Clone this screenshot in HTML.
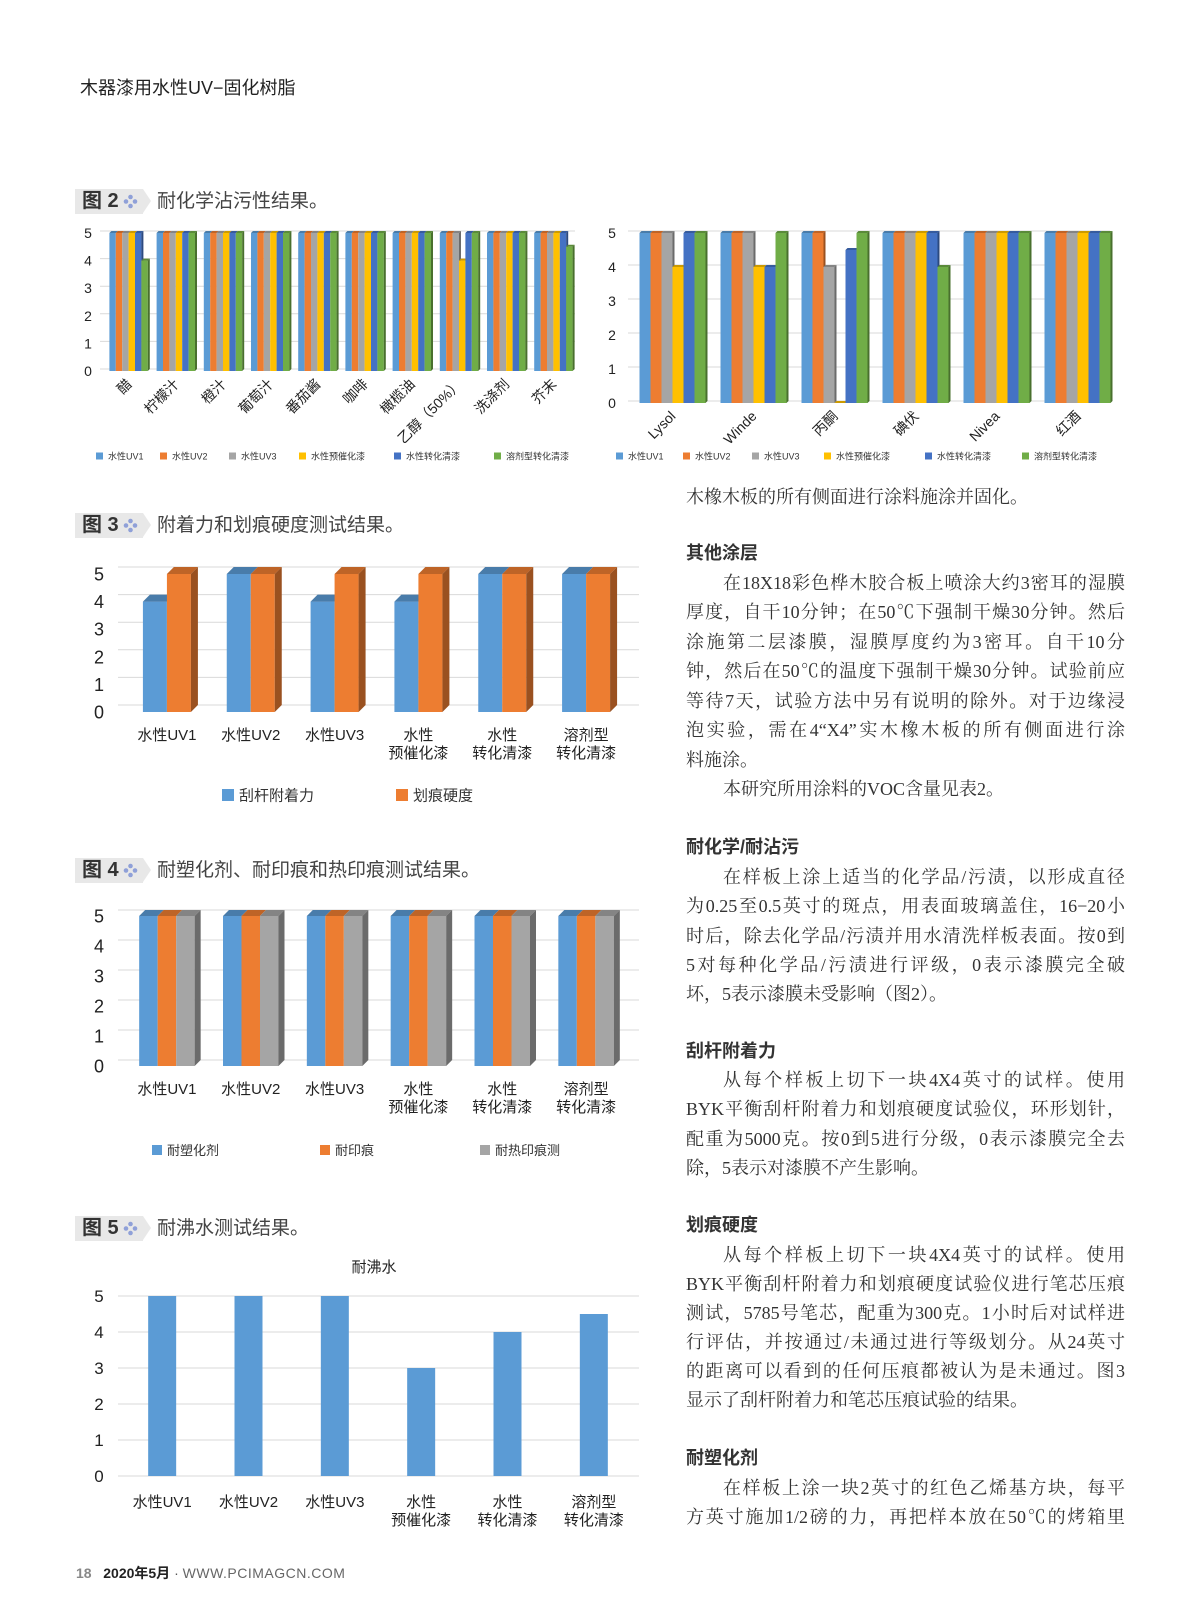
<!DOCTYPE html>
<html><head><meta charset="utf-8">
<style>
html,body{margin:0;padding:0;background:#fff;}
body{width:1200px;height:1613px;position:relative;overflow:hidden;font-family:"Liberation Sans","Noto Sans CJK SC",sans-serif;color:#333;}
.abs{position:absolute;}
.hdr{left:80px;top:74px;font-size:18px;color:#222;}
.cap{position:absolute;left:75px;height:25px;}
.cap .box{position:absolute;left:0;top:0;width:68px;height:25px;background:#e8e8e8;}
.cap .tip{position:absolute;left:68px;top:0;width:0;height:0;border-top:12.5px solid transparent;border-bottom:12.5px solid transparent;border-left:8px solid #e8e8e8;}
.cap .lab{position:absolute;left:7px;top:0;line-height:25px;font-size:20px;font-weight:bold;color:#333;white-space:nowrap;}
.cap .dia{position:absolute;left:48px;top:5px;width:15px;height:15px;}
.cap .txt{position:absolute;left:82px;top:0;line-height:25px;font-size:19px;color:#444;white-space:nowrap;}
.ln{position:absolute;left:686px;width:439px;height:22px;line-height:22px;font-family:"Liberation Serif","Noto Serif CJK SC",serif;font-size:18px;color:#333;white-space:nowrap;text-align:justify;text-align-last:justify;}
.ln.l{text-align-last:left;}
.ln.i{padding-left:37px;width:402px;}
.hd{position:absolute;left:686px;height:24px;line-height:24px;font-size:18px;font-weight:bold;color:#333;}
svg{position:absolute;left:0;top:0;}
</style></head><body>
<div class="abs hdr">木器漆用水性UV−固化树脂</div>

<div class="cap" style="top:189px"><div class="box"></div><div class="tip"></div><div class="lab">图 2</div><svg class="dia" viewBox="0 0 15 15"><circle cx="7.5" cy="3" r="2.3" fill="#8fa0d8"/><circle cx="3" cy="7.5" r="2.3" fill="#8fa0d8"/><circle cx="12" cy="7.5" r="2.3" fill="#8fa0d8"/><circle cx="7.5" cy="12" r="2.3" fill="#8fa0d8"/></svg><div class="txt">耐化学沾污性结果。</div></div>
<div class="cap" style="top:513px"><div class="box"></div><div class="tip"></div><div class="lab">图 3</div><svg class="dia" viewBox="0 0 15 15"><circle cx="7.5" cy="3" r="2.3" fill="#8fa0d8"/><circle cx="3" cy="7.5" r="2.3" fill="#8fa0d8"/><circle cx="12" cy="7.5" r="2.3" fill="#8fa0d8"/><circle cx="7.5" cy="12" r="2.3" fill="#8fa0d8"/></svg><div class="txt">附着力和划痕硬度测试结果。</div></div>
<div class="cap" style="top:858px"><div class="box"></div><div class="tip"></div><div class="lab">图 4</div><svg class="dia" viewBox="0 0 15 15"><circle cx="7.5" cy="3" r="2.3" fill="#8fa0d8"/><circle cx="3" cy="7.5" r="2.3" fill="#8fa0d8"/><circle cx="12" cy="7.5" r="2.3" fill="#8fa0d8"/><circle cx="7.5" cy="12" r="2.3" fill="#8fa0d8"/></svg><div class="txt">耐塑化剂、耐印痕和热印痕测试结果。</div></div>
<div class="cap" style="top:1216px"><div class="box"></div><div class="tip"></div><div class="lab">图 5</div><svg class="dia" viewBox="0 0 15 15"><circle cx="7.5" cy="3" r="2.3" fill="#8fa0d8"/><circle cx="3" cy="7.5" r="2.3" fill="#8fa0d8"/><circle cx="12" cy="7.5" r="2.3" fill="#8fa0d8"/><circle cx="7.5" cy="12" r="2.3" fill="#8fa0d8"/></svg><div class="txt">耐沸水测试结果。</div></div>

<svg id="charts" width="1200" height="1613"></svg>

<div>
<div class="ln l" style="top:486px">木橡木板的所有侧面进行涂料施涂并固化。</div>
<div class="hd" style="top:541px">其他涂层</div>
<div class="ln i" style="top:572px">在18X18彩色桦木胶合板上喷涂大约3密耳的湿膜</div>
<div class="ln" style="top:601px">厚度，自干10分钟；在50℃下强制干燥30分钟。然后</div>
<div class="ln" style="top:631px">涂施第二层漆膜，湿膜厚度约为3密耳。自干10分</div>
<div class="ln" style="top:660px">钟，然后在50℃的温度下强制干燥30分钟。试验前应</div>
<div class="ln" style="top:690px">等待7天，试验方法中另有说明的除外。对于边缘浸</div>
<div class="ln" style="top:719px">泡实验，需在4“X4”实木橡木板的所有侧面进行涂</div>
<div class="ln l" style="top:749px">料施涂。</div>
<div class="ln i l" style="top:778px">本研究所用涂料的VOC含量见表2。</div>
<div class="hd" style="top:835px">耐化学/耐沾污</div>
<div class="ln i" style="top:866px">在样板上涂上适当的化学品/污渍，以形成直径</div>
<div class="ln" style="top:895px">为0.25至0.5英寸的斑点，用表面玻璃盖住，16−20小</div>
<div class="ln" style="top:925px">时后，除去化学品/污渍并用水清洗样板表面。按0到</div>
<div class="ln" style="top:954px">5对每种化学品/污渍进行评级，0表示漆膜完全破</div>
<div class="ln l" style="top:983px">坏，5表示漆膜未受影响（图2）。</div>
<div class="hd" style="top:1039px">刮杆附着力</div>
<div class="ln i" style="top:1069px">从每个样板上切下一块4X4英寸的试样。使用</div>
<div class="ln" style="top:1098px">BYK平衡刮杆附着力和划痕硬度试验仪，环形划针，</div>
<div class="ln" style="top:1128px">配重为5000克。按0到5进行分级，0表示漆膜完全去</div>
<div class="ln l" style="top:1157px">除，5表示对漆膜不产生影响。</div>
<div class="hd" style="top:1213px">划痕硬度</div>
<div class="ln i" style="top:1244px">从每个样板上切下一块4X4英寸的试样。使用</div>
<div class="ln" style="top:1273px">BYK平衡刮杆附着力和划痕硬度试验仪进行笔芯压痕</div>
<div class="ln" style="top:1302px">测试，5785号笔芯，配重为300克。1小时后对试样进</div>
<div class="ln" style="top:1331px">行评估，并按通过/未通过进行等级划分。从24英寸</div>
<div class="ln" style="top:1360px">的距离可以看到的任何压痕都被认为是未通过。图3</div>
<div class="ln l" style="top:1389px">显示了刮杆附着力和笔芯压痕试验的结果。</div>
<div class="hd" style="top:1446px">耐塑化剂</div>
<div class="ln i" style="top:1477px">在样板上涂一块2英寸的红色乙烯基方块，每平</div>
<div class="ln" style="top:1506px">方英寸施加1/2磅的力，再把样本放在50℃的烤箱里</div>
</div>

<div class="abs" style="left:76px;top:1563px;font-size:14px;white-space:nowrap"><span style="color:#888;font-weight:bold">18</span>&nbsp;&nbsp;&nbsp;<span style="font-weight:bold;color:#222">2020年5月</span> <span style="color:#555">·</span> <span style="color:#666;letter-spacing:0.5px">WWW.PCIMAGCN.COM</span></div>

<script>
// ---- data ----
const fig2aCats = ['醋','柠檬汁','橙汁','葡萄汁','番茄酱','咖啡','橄榄油','乙醇（50%）','洗涤剂','芥末'];
const fig2aUV1 = [5,5,5,5,5,5,5,5,5,5];
const fig2aUV2 = [5,5,5,5,5,5,5,5,5,5];
const fig2aUV3 = [5,5,5,5,5,5,5,5,5,5];
const fig2aPre = [5,5,5,5,5,5,5,4,5,5];
const fig2aConv = [5,5,5,5,5,5,5,5,5,5];
const fig2aSolv = [4,5,5,5,5,5,5,5,5,4.5];
const fig2bCats = ['Lysol','Winde','丙酮','碘伏','Nivea','红酒'];
const fig2bUV1 = [5,5,5,5,5,5];
const fig2bUV2 = [5,5,5,5,5,5];
const fig2bUV3 = [5,5,4,5,5,5];
const fig2bPre = [4,4,0,5,5,5];
const fig2bConv = [5,4,4.5,5,5,5];
const fig2bSolv = [5,5,5,4,5,5];
const coatCats = [['水性UV1'],['水性UV2'],['水性UV3'],['水性','预催化漆'],['水性','转化清漆'],['溶剂型','转化清漆']];
const fig3Adh = [4,5,4,4,5,5];
const fig3Scr = [5,5,5,5,5,5];
const fig4Plas = [5,5,5,5,5,5];
const fig4Print = [5,5,5,5,5,5];
const fig4Hot = [5,5,5,5,5,5];
const fig5Boil = [5,5,5,3,4,4.5];
const yTicks = [0,1,2,3,4,5];
const legend2 = ['水性UV1','水性UV2','水性UV3','水性预催化漆','水性转化清漆','溶剂型转化清漆'];
const legend3 = ['刮杆附着力','划痕硬度'];
const legend4 = ['耐塑化剂','耐印痕','耐热印痕测'];

const C = {b:'#5b9bd5',o:'#ed7d31',g:'#a5a5a5',y:'#ffc000',d:'#4472c4',gr:'#70ad47'};
const NS='http://www.w3.org/2000/svg';
const svg=document.getElementById('charts');
function mk(tag,at,parent){const e=document.createElementNS(NS,tag);for(const k in at)e.setAttribute(k,at[k]);(parent||svg).appendChild(e);return e;}
function shade(hex,f){const n=parseInt(hex.slice(1),16);let r=n>>16,g=(n>>8)&255,b=n&255;r=Math.round(r*f);g=Math.round(g*f);b=Math.round(b*f);return 'rgb('+r+','+g+','+b+')';}

function chart(name,cfg,cats,series,colors){
  const grp=mk('g',{});
  
  
  const y=v=>cfg.y0-(v/5)*(cfg.y0-cfg.y5);
  const step=(cfg.x1-cfg.x0)/cats.length;
  const xc=i=>cfg.x0+step*(i+0.5);
  yTicks.forEach(t=>{
    const l=mk('line',{x1:cfg.gx0,x2:cfg.gx1,y1:y(t)-cfg.dep,y2:y(t)-cfg.dep,stroke:'#d9d9d9','stroke-width':1},grp);
    
    
    const tx=mk('text',{x:cfg.lx,y:y(t)+cfg.fs*0.36,'font-size':cfg.fs,'text-anchor':'middle',fill:'#222'},grp);
    tx.textContent=t;
    
    
  });
  const ns=series.length,bw=cfg.bw;
  series.forEach((s,si)=>{
    s.forEach((v,i)=>{
      const bx=xc(i)-ns*bw/2+si*bw, by=y(v), h=cfg.y0-by;
      const col=colors[si];
      const r=mk('rect',{x:bx,y:by,width:bw,height:Math.max(h,0),fill:col},grp);
      
      
      if(cfg.dep>0){
        const d=cfg.dep;
        const top=mk('polygon',{points:[bx,by,bx+d,by-d,bx+bw+d,by-d,bx+bw,by].join(','),fill:shade(col,0.8)},grp);
        
        
        if(si===ns-1||v>series[si+1][i]){
          const side=mk('polygon',{points:[bx+bw,by,bx+bw+d,by-d,bx+bw+d,cfg.y0-d,bx+bw,cfg.y0].join(','),fill:shade(col,0.65)},grp);
          
          
        }
      }
    });
  });
  cats.forEach((c,i)=>{
    if(cfg.rot){
      const tx=mk('text',{x:xc(i)+4,y:cfg.y0+14,'font-size':cfg.cfs,'text-anchor':'end',fill:'#222',transform:'rotate(-45 '+(xc(i)+4)+' '+(cfg.y0+14)+')'},grp);
      tx.textContent=c;
      
      
    } else {
      c.forEach((line,k)=>{
        const tx=mk('text',{x:xc(i),y:cfg.ly+k*18,'font-size':cfg.cfs,'text-anchor':'middle',fill:'#222'},grp);
        tx.textContent=line;
        
        
      });
    }
  });
  if(cfg.legend){
    cfg.legend.forEach((lab,k)=>{
      const lx=cfg.legX[k];
      const sq=mk('rect',{x:lx,y:cfg.legY-cfg.lsq/2,width:cfg.lsq,height:cfg.lsq,fill:colors[k]},grp);
      
      
      const tx=mk('text',{x:lx+cfg.lsq+5,y:cfg.legY+cfg.lfs*0.38,'font-size':cfg.lfs,fill:'#333'},grp);
      tx.textContent=lab;
      
      
    });
  }
}
const six=[C.b,C.o,C.g,C.y,C.d,C.gr];
chart('chemical-resistance-chart-a',{x0:105,x1:577,y0:371,y5:233,gx0:100,gx1:575,lx:88,fs:14,bw:6.4,dep:2,rot:true,cfs:14,
  legend:legend2,legX:[96,160,229,299,394,494],legY:456,lsq:7,lfs:9},fig2aCats,[fig2aUV1,fig2aUV2,fig2aUV3,fig2aPre,fig2aConv,fig2aSolv],six);
chart('chemical-resistance-chart-b',{x0:632,x1:1118,y0:403,y5:233,gx0:628,gx1:1110,lx:612,fs:14,bw:11,dep:2,rot:true,cfs:14,
  legend:legend2,legX:[616,683,752,824,925,1022],legY:456,lsq:7,lfs:9},fig2bCats,[fig2bUV1,fig2bUV2,fig2bUV3,fig2bPre,fig2bConv,fig2bSolv],six);
chart('adhesion-scratch-chart',{x0:125,x1:628,y0:712,y5:574,gx0:118,gx1:639,lx:99,fs:18,bw:24,dep:7,rot:false,cfs:15,ly:740,
  legend:legend3,legX:[222,396],legY:795,lsq:12,lfs:15},coatCats,[fig3Adh,fig3Scr],[C.b,C.o]);
chart('plasticizer-print-chart',{x0:125,x1:628,y0:1066,y5:916,gx0:118,gx1:639,lx:99,fs:18,bw:18.5,dep:6,rot:false,cfs:15,ly:1094,
  legend:legend4,legX:[152,320,480],legY:1150,lsq:10,lfs:13},coatCats,[fig4Plas,fig4Print,fig4Hot],[C.b,C.o,C.g]);
chart('boiling-water-chart',{x0:119,x1:637,y0:1476,y5:1296,gx0:118,gx1:639,lx:99,fs:17,bw:28,dep:0,rot:false,cfs:15,ly:1507},coatCats,[fig5Boil],[C.b]);
const t5=mk('text',{x:374,y:1272,'font-size':15,'text-anchor':'middle',fill:'#222'});
t5.textContent='耐沸水';


</script>
</body></html>
